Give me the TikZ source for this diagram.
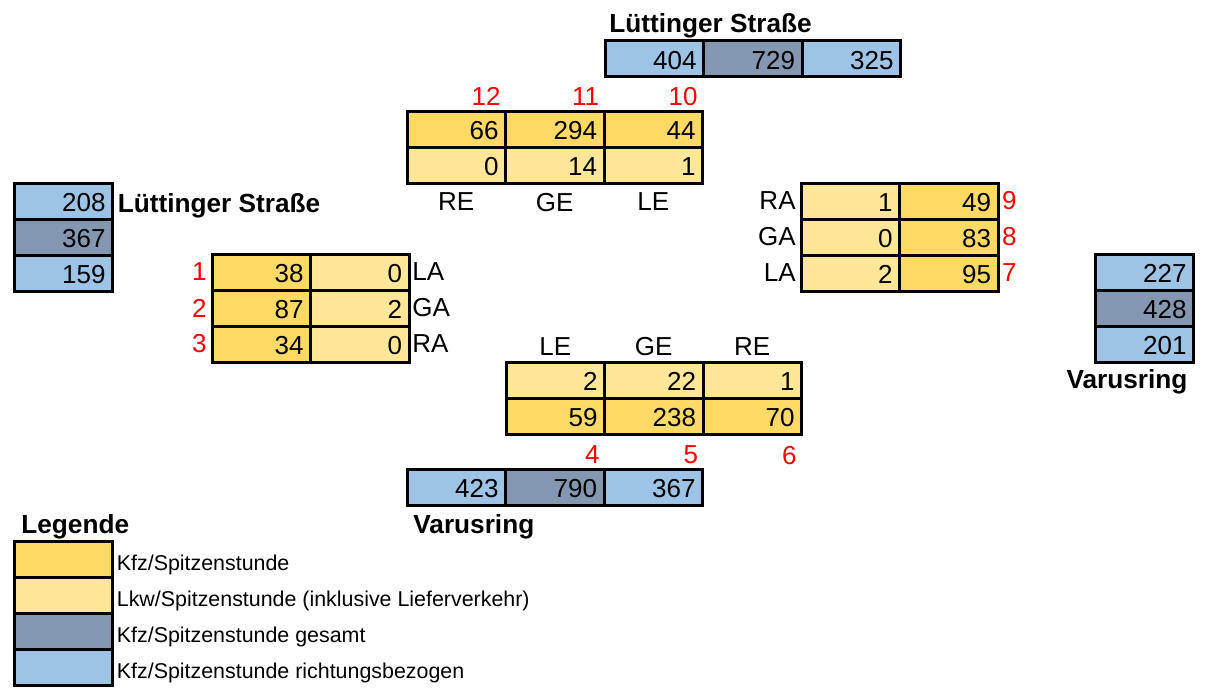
\documentclass[tikz,border=0pt]{standalone}
\usepackage{fontspec}
\setmainfont{Liberation Sans}
\usepackage{tikz}
\usetikzlibrary{positioning}
\definecolor{kfzgelb}{RGB}{255,217,102}
\definecolor{lkwgelb}{RGB}{255,230,153}
\definecolor{gesamtgrau}{RGB}{132,151,176}
\definecolor{richtungblau}{RGB}{157,195,230}

\begin{document}
\begin{tikzpicture}[x=0.5pt,y=-0.5pt,node distance=0pt,font=\fontsize{13}{15.6}\selectfont,
    cell/.style={draw,line width=1.5pt,outer sep=0pt,minimum width=49.25pt,minimum height=18pt,
      text width=42.25pt,inner xsep=3.5pt,inner ysep=0pt,align=right,text height=10pt,text depth=0pt},
    kfz/.style={cell,fill=kfzgelb},
    lkw/.style={cell,fill=lkwgelb},
    gesamt/.style={cell,fill=gesamtgrau},
    richtung/.style={cell,fill=richtungblau},
    strom/.style={text=red,inner sep=0pt},
    arm/.style={inner sep=0pt},
    strasse/.style={inner sep=0pt,font=\fontsize{13.1}{15.6}\selectfont\bfseries},
    legtext/.style={inner sep=0pt,font=\fontsize{10.7}{12.8}\selectfont}]
      \useasboundingbox (0,0) rectangle (1208,690);

      \node[strasse,anchor=base west] (name_n) at (609,33) {Lüttinger Straße};
      \node[richtung,anchor=north west] (n_1) at (605,41) {404};
      \node[gesamt,right=of n_1] (n_2) {729};
      \node[richtung,right=of n_2] (n_3) {325};

      \node[kfz,anchor=north west] (k_12) at (407,111) {66};
      \node[kfz,right=of k_12] (k_11) {294};
      \node[kfz,right=of k_11] (k_10) {44};
      \node[lkw,below=of k_12] (l_12) {0};
      \node[lkw,below=of k_11] (l_11) {14};
      \node[lkw,below=of k_10] (l_10) {1};
      \node[strom,above=2.4pt of k_12.north east,anchor=south east,xshift=-2.3pt] (s_12) {12};
      \node[strom,above=2.4pt of k_11.north east,anchor=south east,xshift=-2.3pt] (s_11) {11};
      \node[strom,above=2.4pt of k_10.north east,anchor=south east,xshift=-2.3pt] (s_10) {10};
      \node[arm,below=4.8pt of l_12] (a_n1) {RE};
      \node[arm,below=4.8pt of l_11] (a_n2) {GE};
      \node[arm,below=4.8pt of l_10] (a_n3) {LE};

      \node[lkw,anchor=north west] (l_9) at (801,183) {1};
      \node[kfz,right=of l_9] (k_9) {49};
      \node[lkw,below=of l_9] (l_8) {0};
      \node[kfz,right=of l_8] (k_8) {83};
      \node[lkw,below=of l_8] (l_7) {2};
      \node[kfz,right=of l_7] (k_7) {95};
      \node[arm,left=2.5pt of l_9] (a_o1) {RA};
      \node[arm,left=2.5pt of l_8] (a_o2) {GA};
      \node[arm,left=2.5pt of l_7] (a_o3) {LA};
      \node[strom,right=1.8pt of k_9] (s_9) {9};
      \node[strom,right=1.8pt of k_8] (s_8) {8};
      \node[strom,right=1.8pt of k_7] (s_7) {7};

      \node[richtung,anchor=north west] (o_1) at (1095,254) {227};
      \node[gesamt,below=of o_1] (o_2) {428};
      \node[richtung,below=of o_2] (o_3) {201};
      \node[strasse,anchor=base] (name_o) at (1127,388) {Varusring};

      \node[richtung,anchor=north west] (w_1) at (14,183) {208};
      \node[gesamt,below=of w_1] (w_2) {367};
      \node[richtung,below=of w_2] (w_3) {159};
      \node[strasse,anchor=base west] (name_w) at (117.5,212) {Lüttinger Straße};

      \node[kfz,anchor=north west] (k_1) at (212,254) {38};
      \node[lkw,right=of k_1] (l_1) {0};
      \node[kfz,below=of k_1] (k_2) {87};
      \node[lkw,right=of k_2] (l_2) {2};
      \node[kfz,below=of k_2] (k_3) {34};
      \node[lkw,right=of k_3] (l_3) {0};
      \node[strom,left=2.5pt of k_1] (s_1) {1};
      \node[strom,left=2.5pt of k_2] (s_2) {2};
      \node[strom,left=2.5pt of k_3] (s_3) {3};
      \node[arm,right=1.5pt of l_1] (a_w1) {LA};
      \node[arm,right=1.5pt of l_2] (a_w2) {GA};
      \node[arm,right=1.5pt of l_3] (a_w3) {RA};

      \node[lkw,anchor=north west] (l_4) at (506,362) {2};
      \node[lkw,right=of l_4] (l_5) {22};
      \node[lkw,right=of l_5] (l_6) {1};
      \node[kfz,below=of l_4] (k_4) {59};
      \node[kfz,below=of l_5] (k_5) {238};
      \node[kfz,below=of l_6] (k_6) {70};
      \node[arm,above=2.85pt of l_4] (a_s1) {LE};
      \node[arm,above=2.85pt of l_5] (a_s2) {GE};
      \node[arm,above=2.85pt of l_6] (a_s3) {RE};
      \node[strom,below=5.85pt of k_4.south east,anchor=north east,xshift=-2.3pt] (s_4) {4};
      \node[strom,below=5.85pt of k_5.south east,anchor=north east,xshift=-2.3pt] (s_5) {5};
      \node[strom,below=5.85pt of k_6.south east,anchor=north east,xshift=-2.3pt] (s_6) {6};

      \node[richtung,anchor=north west] (u_1) at (407,469) {423};
      \node[gesamt,right=of u_1] (u_2) {790};
      \node[richtung,right=of u_2] (u_3) {367};
      \node[strasse,anchor=base west] (name_s) at (413,533) {Varusring};

      \node[strasse,anchor=base west] (leg) at (21,533) {Legende};
      \node[kfz,anchor=north west] (g_1) at (14,541) {};
      \node[lkw,below=of g_1] (g_2) {};
      \node[gesamt,below=of g_2] (g_3) {};
      \node[richtung,below=of g_3] (g_4) {};
      \node[legtext,right=2pt of g_1,anchor=base west,yshift=-5.5pt] (t_1) {Kfz/Spitzenstunde};
      \node[legtext,right=2pt of g_2,anchor=base west,yshift=-5.5pt] (t_2) {Lkw/Spitzenstunde (inklusive Lieferverkehr)};
      \node[legtext,right=2pt of g_3,anchor=base west,yshift=-5.5pt] (t_3) {Kfz/Spitzenstunde gesamt};
      \node[legtext,right=2pt of g_4,anchor=base west,yshift=-5.5pt] (t_4) {Kfz/Spitzenstunde richtungsbezogen};
    \end{tikzpicture}
\end{document}
